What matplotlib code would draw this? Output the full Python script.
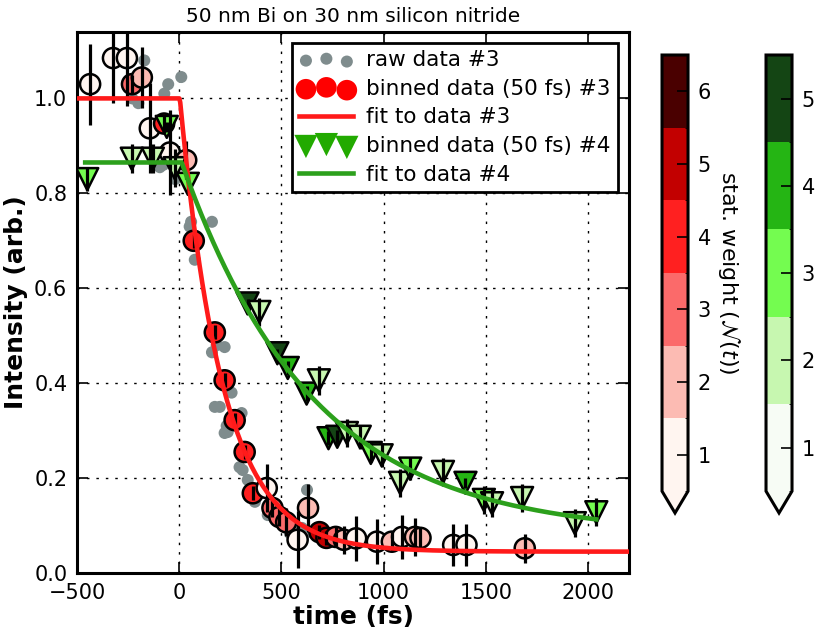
import numpy as np
import matplotlib
matplotlib.use("Agg")
import matplotlib.pyplot as plt
from matplotlib.colors import ListedColormap, BoundaryNorm
from matplotlib.cm import ScalarMappable

# === DATA ===
# raw data #3 (grey dots)
raw_t = [-171, -161, -200, -54, -73, 10, -78, -20, -95, -230,
         51, 58, 160, 66, 76, 183, 222, 160, 256, 198, 174, 305,
         237, 222, 232, 295, 310, 335, 370, 433, 482, 541, 525,
         625, 674, 705, 600, 650]
raw_y = [1.08, 1.05, 0.99, 1.03, 1.01, 1.045, 0.86, 0.83, 0.855, 1.0,
         0.73, 0.74, 0.74, 0.69, 0.66, 0.48, 0.476, 0.465, 0.38, 0.35, 0.35, 0.337,
         0.297, 0.295, 0.31, 0.223, 0.217, 0.196, 0.15, 0.122, 0.118, 0.084, 0.105,
         0.175, 0.09, 0.076, 0.095, 0.085]

# binned data (50 fs) #3
b3_t = [-436, -324, -256, -231, -183, -144, -74, -46, 34, 71,
        174, 222, 271, 320, 360, 428, 456, 490, 523, 579,
        630, 686, 720, 765, 805, 865, 967, 1040, 1090, 1153,
        1180, 1340, 1405, 1690]
b3_y = [1.03, 1.085, 1.085, 1.03, 1.044, 0.937, 0.947, 0.886, 0.87, 0.70,
        0.507, 0.406, 0.322, 0.255, 0.168, 0.179, 0.137, 0.118, 0.107, 0.07,
        0.137, 0.086, 0.074, 0.076, 0.07, 0.073, 0.066, 0.066, 0.076, 0.076,
        0.074, 0.059, 0.059, 0.052]
b3_err = [0.085, 0.095, 0.10, 0.02, 0.065, 0.095, 0.02, 0.09, 0.04, 0.015,
          0.015, 0.015, 0.015, 0.015, 0.015, 0.05, 0.02, 0.02, 0.03, 0.06,
          0.05, 0.015, 0.015, 0.02, 0.03, 0.047, 0.047, 0.02, 0.047, 0.04,
          0.02, 0.045, 0.045, 0.03]
b3_w = [1, 1, 1, 3, 2, 1, 4, 1, 2, 4,
        4, 4, 4, 4, 4, 1, 3, 3, 3, 1,
        2, 5, 5, 3, 2, 1, 1, 2, 1, 2,
        2, 1, 1, 2]

# binned data (50 fs) #4
b4_t = [-450, -232, -129, -61, -22, 42, 334, 392, 480, 531,
        623, 683, 730, 773, 820, 883, 937, 990, 1080, 1130,
        1290, 1400, 1490, 1530, 1677, 1935, 2040]
b4_y = [0.83, 0.873, 0.873, 0.94, 0.853, 0.82, 0.568, 0.55, 0.463, 0.432,
        0.378, 0.406, 0.284, 0.287, 0.295, 0.287, 0.253, 0.248, 0.19, 0.22,
        0.213, 0.19, 0.154, 0.147, 0.158, 0.105, 0.128]
b4_err = [0.025, 0.03, 0.03, 0.01, 0.04, 0.02, 0.01, 0.03, 0.01, 0.015,
          0.015, 0.03, 0.015, 0.015, 0.03, 0.025, 0.02, 0.025, 0.03, 0.025,
          0.03, 0.01, 0.03, 0.03, 0.03, 0.03, 0.03]
b4_w = [3, 2, 2, 3, 2, 3, 5, 2, 5, 4,
        4, 2, 4, 5, 2, 2, 3, 2, 2, 3,
        2, 4, 3, 2, 2, 2, 3]

# fit parameters: y = c + (y0 - c) * exp(-(t - t0) / tau) for t > t0
fit3 = dict(y0=1.0, c=0.045, t0=3, tau=210, tmin=-500, tmax=2200)
fit4 = dict(y0=0.865, c=0.08, t0=12, tau=640, tmin=-460, tmax=2040)

reds = ['#fff5f0', '#fcbbb3', '#fb6a6a', '#ff2020', '#c20000', '#4a0000']
greens = ['#f7fcf5', '#c7f7b0', '#74fc50', '#25b514', '#144514']


def model(p):
    t = np.linspace(p["tmin"], p["tmax"], 600)
    y = np.where(t < p["t0"], p["y0"],
                 p["c"] + (p["y0"] - p["c"]) * np.exp(-(t - p["t0"]) / p["tau"]))
    return t, y


plt.rcParams.update({
    "font.size": 15,
    "xtick.direction": "in", "ytick.direction": "in",
    "xtick.top": True, "ytick.right": True,
    "xtick.major.size": 8, "ytick.major.size": 8,
    "xtick.major.width": 1.2, "ytick.major.width": 1.2,
    "xtick.major.pad": 7, "ytick.major.pad": 7,
    "axes.linewidth": 2.2,
})

fig = plt.figure(figsize=(8.15, 6.33), dpi=100)
ax = fig.add_axes([0.0945, 0.0948, 0.6773, 0.8547])

cmap3 = ListedColormap(reds)
cmap3.set_under(reds[0])
norm3 = BoundaryNorm(np.arange(0.5, 7.0, 1.0), len(reds))
cmap4 = ListedColormap(greens)
cmap4.set_under(greens[0])
norm4 = BoundaryNorm(np.arange(0.5, 6.0, 1.0), len(greens))

ax.scatter(raw_t, raw_y, s=75, c='#7f8c8d', edgecolors='none', zorder=2)

ax.scatter(b3_t, b3_y, s=210, c=b3_w, cmap=cmap3, norm=norm3,
           edgecolors='k', linewidths=1.8, zorder=3)
ax.errorbar(b3_t, b3_y, yerr=b3_err, fmt='none', ecolor='k', elinewidth=2.3,
            capsize=0, zorder=4)

ax.scatter(b4_t, b4_y, s=250, marker='v', c=b4_w, cmap=cmap4, norm=norm4,
           edgecolors='k', linewidths=1.8, zorder=3)
ax.errorbar(b4_t, b4_y, yerr=b4_err, fmt='none', ecolor='k', elinewidth=2.3,
            capsize=0, zorder=4)

t3, y3 = model(fit3)
t4, y4 = model(fit4)
ax.plot(t3, y3, color='#ff1a1a', lw=3.3, zorder=5)
ax.plot(t4, y4, color='#2ca01c', lw=3.3, zorder=5)

ax.set_xlim(-500, 2200)
ax.set_ylim(0, 1.14)
ax.set_xticks([-500, 0, 500, 1000, 1500, 2000])
ax.set_yticks([0.0, 0.2, 0.4, 0.6, 0.8, 1.0])
ax.set_yticklabels(['0.0', '0.2', '0.4', '0.6', '0.8', '1.0'])
ax.grid(True, color='k', linestyle=(0, (1.8, 5)), linewidth=1.0)
ax.set_axisbelow(True)

ax.set_xlabel('time (fs)', fontweight='bold', fontsize=18, labelpad=2)
ax.set_ylabel('Intensity (arb.)', fontweight='bold', fontsize=18)
ax.set_title('50 nm Bi on 30 nm silicon nitride', fontsize=14.5, pad=7)

# legend proxies
h_raw = ax.scatter([], [], s=75, c='#7f8c8d', edgecolors='none')
h_b3 = ax.scatter([], [], s=220, c='#ff0000', edgecolors='none')
h_f3, = ax.plot([], [], color='#ff1a1a', lw=3.3)
h_b4 = ax.scatter([], [], s=280, marker='v', c='#22aa00', edgecolors='none')
h_f4, = ax.plot([], [], color='#2ca01c', lw=3.3)
leg = ax.legend([h_raw, h_b3, h_f3, h_b4, h_f4],
                ['raw data #3', 'binned data (50 fs) #3', 'fit to data #3',
                 'binned data (50 fs) #4', 'fit to data #4'],
                loc='upper right', scatterpoints=3, fancybox=False,
                framealpha=1, edgecolor='k', fontsize=15.5, handlelength=2.5,
                handletextpad=0.6, borderpad=0.35, labelspacing=0.4)
leg.get_frame().set_linewidth(2)

# colorbars
cax3 = fig.add_axes([0.8123, 0.1896, 0.0319, 0.7235])
cb3 = fig.colorbar(ScalarMappable(norm=norm3, cmap=cmap3), cax=cax3,
                   extend='min', ticks=[1, 2, 3, 4, 5, 6])
cb3.outline.set_linewidth(2.2)
cb3.ax.tick_params(direction='in', length=8, width=1.2, labelsize=15)
cb3.set_label('stat. weight ($\\mathcal{N}(t)$)', rotation=270, labelpad=22,
              fontsize=16)

cax4 = fig.add_axes([0.9399, 0.1896, 0.0319, 0.7235])
cb4 = fig.colorbar(ScalarMappable(norm=norm4, cmap=cmap4), cax=cax4,
                   extend='min', ticks=[1, 2, 3, 4, 5])
cb4.outline.set_linewidth(2.2)
cb4.ax.tick_params(direction='in', length=8, width=1.2, labelsize=15)

fig.savefig("out.png", dpi=100)
